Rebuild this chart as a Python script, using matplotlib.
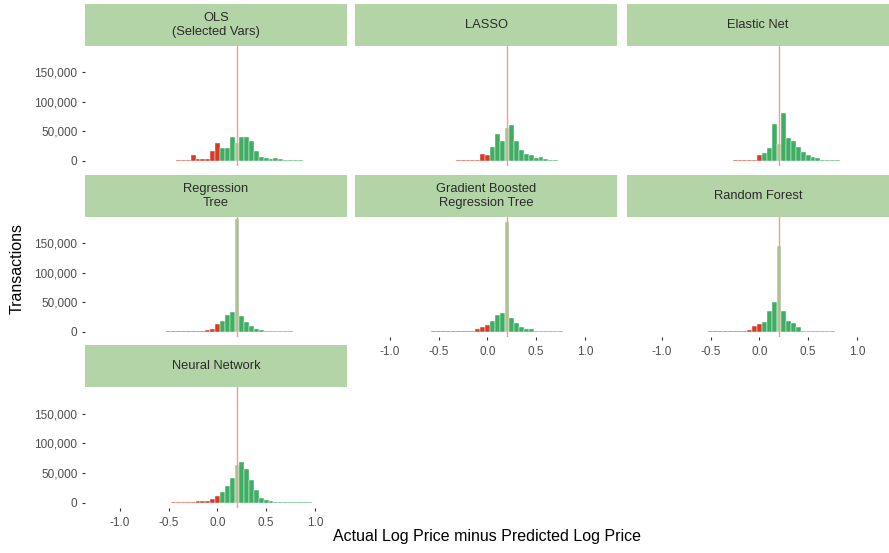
import matplotlib
matplotlib.use("Agg")
import matplotlib.pyplot as plt
from matplotlib.ticker import FuncFormatter

plt.rcParams['font.family'] = ['Liberation Sans', 'DejaVu Sans']
plt.rcParams['axes.unicode_minus'] = False

# bin centres of the residual histogram (width 0.05)
centers = [-0.55, -0.50, -0.45, -0.40, -0.35, -0.30, -0.25, -0.20, -0.15, -0.10, -0.05,
           0.00, 0.05, 0.10, 0.15, 0.20, 0.25, 0.30, 0.35, 0.40, 0.45, 0.50, 0.55,
           0.60, 0.65, 0.70, 0.75, 0.80, 0.85, 0.90, 0.95]

# transactions per bin, in thousands
ols = [0, 0, 0, 0.5, 0.5, 0.5, 9, 3, 3, 3, 17, 30, 21, 22, 41, 30, 41, 41, 34, 16, 7, 4,
       3.5, 5, 3, 2, 1, 0.5, 0.5, 0, 0]
lasso = [0, 0, 0, 0, 0, 2, 0.5, 1, 1, 1, 11, 9, 24, 46, 34, 56, 61, 33, 18, 11, 10, 5,
         7, 3, 2, 1, 0, 0, 0, 0, 0]
enet = [0, 0, 0, 0, 0, 0, 1, 1, 1, 1, 1, 9, 13, 21, 63, 29, 81, 38, 33, 24, 14, 10, 7,
        4, 2, 0.5, 0.5, 0.5, 0, 0, 0]
rtree = [0, 0.5, 0.5, 0.5, 0.5, 1, 1, 1, 1.5, 3, 5, 13, 18, 28, 34, 191, 26, 16, 9, 4,
         3, 2, 1.5, 1, 1, 1, 0.5, 0, 0, 0, 0]
gbrt = [0.5, 0.5, 0.5, 0.5, 1, 1, 1, 1, 1.5, 4, 8, 12, 18, 28, 31, 187, 24, 14, 8.5, 5,
        4, 1, 1, 1, 1, 1, 0.5, 0, 0, 0, 0]
rf = [0, 0.5, 0.5, 0.5, 0.5, 0.5, 1, 1, 1.5, 3, 10, 12.5, 16, 35, 50, 145, 35, 18, 14,
      8.5, 1, 1, 1, 1, 1, 1, 0.5, 0, 0, 0, 0]
nn = [0, 0, 0.5, 0.5, 0.5, 0.5, 1, 2, 2.5, 3, 7, 11, 18, 28, 42, 64, 68, 56, 39, 21, 8,
      4.5, 3, 1.5, 1, 1, 1, 1, 1, 1, 1]

titles = ['OLS\n(Selected Vars)', 'LASSO', 'Elastic Net', 'Regression\nTree',
          'Gradient Boosted\nRegression Tree', 'Random Forest', 'Neural Network']
series = [ols, lasso, enet, rtree, gbrt, rf, nn]
mean_line = 0.2

W, H = 889, 553
fig = plt.figure(figsize=(W / 100, H / 100), dpi=100)

lefts = [85, 355, 627]
pw = 262
strip_top = [4, 175, 345]
strip_bot = [46, 217, 387]
panel_bot = [166, 337, 508]

red = '#d93a26'
green = '#3fae62'
light = '#a2cb9b'
strip_col = '#b2d4a7'
tick_col = '#4d4d4d'

def fmt(v, pos):
    return f'{int(v):,}'

for i, (title, vals) in enumerate(zip(titles, series)):
    row, col = divmod(i, 3)
    x0 = lefts[col] / W
    # strip
    sax = fig.add_axes([x0, 1 - strip_bot[row] / H, pw / W,
                        (strip_bot[row] - strip_top[row]) / H])
    sax.set_facecolor(strip_col)
    sax.set_xticks([]); sax.set_yticks([])
    for s in sax.spines.values():
        s.set_visible(False)
    sax.text(0.5, 0.5, title, ha='center', va='center', fontsize=9.3,
             color='#2b2b2b', linespacing=1.3, transform=sax.transAxes)

    ax = fig.add_axes([x0, 1 - panel_bot[row] / H, pw / W,
                       (panel_bot[row] - strip_bot[row]) / H])
    counts = [v * 1000 for v in vals]
    colors = [red if c <= 0 else (light if abs(c - mean_line) < 1e-9 else green)
              for c in centers]
    ax.bar(centers, counts, width=0.05, color=colors, edgecolor='white', linewidth=0.3)
    ax.axvline(mean_line, color='#eba08a', lw=1.0, zorder=3)
    ax.set_xlim(-1.36, 1.33)
    ax.set_ylim(-9000, 195000)
    for s in ax.spines.values():
        s.set_visible(False)
    ax.set_yticks([0, 50000, 100000, 150000])
    ax.set_xticks([-1.0, -0.5, 0.0, 0.5, 1.0])
    ax.yaxis.set_major_formatter(FuncFormatter(fmt))
    ax.tick_params(colors='#333333', labelcolor=tick_col, labelsize=8.5,
                   length=2.5, width=0.8, pad=3)
    ax.tick_params(axis='x', pad=4)
    if col != 0:
        ax.tick_params(axis='y', length=0, labelleft=False)
    bottom = (row == 2) or (row == 1 and col > 0)
    if not bottom:
        ax.tick_params(axis='x', length=0, labelbottom=False)

fig.text(17 / W, 1 - 268 / H, 'Transactions', rotation=90, ha='center', va='center',
         fontsize=11.5, color='black')
fig.text(487 / W, 1 - 537 / H, 'Actual Log Price minus Predicted Log Price',
         ha='center', va='center', fontsize=11.5, color='black')

fig.savefig('out.png', dpi=100, facecolor='white')
